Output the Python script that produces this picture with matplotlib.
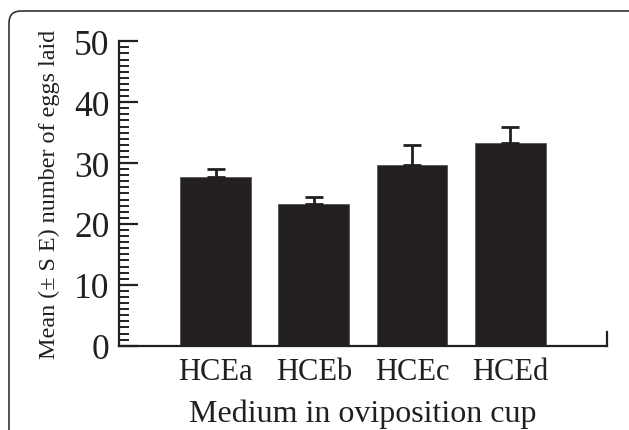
import matplotlib
matplotlib.use("Agg")
import matplotlib.pyplot as plt
from matplotlib.patches import FancyBboxPatch
from matplotlib.ticker import MultipleLocator

# data
media = ["HCEa", "HCEb", "HCEc", "HCEd"]
mean_eggs = [27.7, 23.3, 29.6, 33.3]
se_eggs = [1.4, 1.2, 3.3, 2.7]

INK = "#231f20"

plt.rcParams["font.family"] = ["Liberation Serif", "DejaVu Serif"]

fig = plt.figure(figsize=(6.29, 4.31), dpi=100)
ax = fig.add_axes([0.1897, 0.1956, 0.9645 - 0.1897, 0.9019 - 0.1956])

x = list(range(len(media)))
ax.bar(x, mean_eggs, width=0.72, color=INK, edgecolor="#555555", linewidth=0.6, zorder=2)
ax.errorbar(x, mean_eggs, yerr=[[0] * len(se_eggs), se_eggs], fmt="none",
            ecolor=INK, elinewidth=2.0, capsize=6.8, capthick=2.0, zorder=3)

ax.set_xlim(-0.98, 3.98)
ax.set_ylim(0, 50)
ax.set_xticks(x)
ax.set_xticklabels(media, fontsize=22, color=INK)
ax.set_yticks([0, 10, 20, 30, 40, 50])
ax.yaxis.set_minor_locator(MultipleLocator(1))
ax.tick_params(axis="y", which="major", direction="in", length=14, width=1.6,
               labelsize=25.5, labelcolor=INK, color=INK, pad=7)
ax.tick_params(axis="y", which="minor", direction="in", length=7, width=1.4, color=INK)
ax.tick_params(axis="x", length=0, pad=8)

for side in ["left", "bottom", "right"]:
    ax.spines[side].set_color(INK)
    ax.spines[side].set_linewidth(1.6)
ax.spines["top"].set_visible(False)
ax.spines["right"].set_bounds(0, 2.3)

ax.set_xlabel("Medium in oviposition cup", fontsize=23, color=INK, labelpad=9)
ax.set_ylabel("Mean (± S E) number of eggs laid", fontsize=17.4, color=INK, labelpad=10)

# rounded frame around the panel (cut off at right and bottom)
frame = FancyBboxPatch((0.09, -0.5), 7.0, 4.19 + 0.5,
                       boxstyle="round,pad=0,rounding_size=0.12",
                       transform=fig.dpi_scale_trans, facecolor="none",
                       edgecolor="#333333", linewidth=1.2)
fig.patches.append(frame)

fig.savefig("out.png", dpi=100)
